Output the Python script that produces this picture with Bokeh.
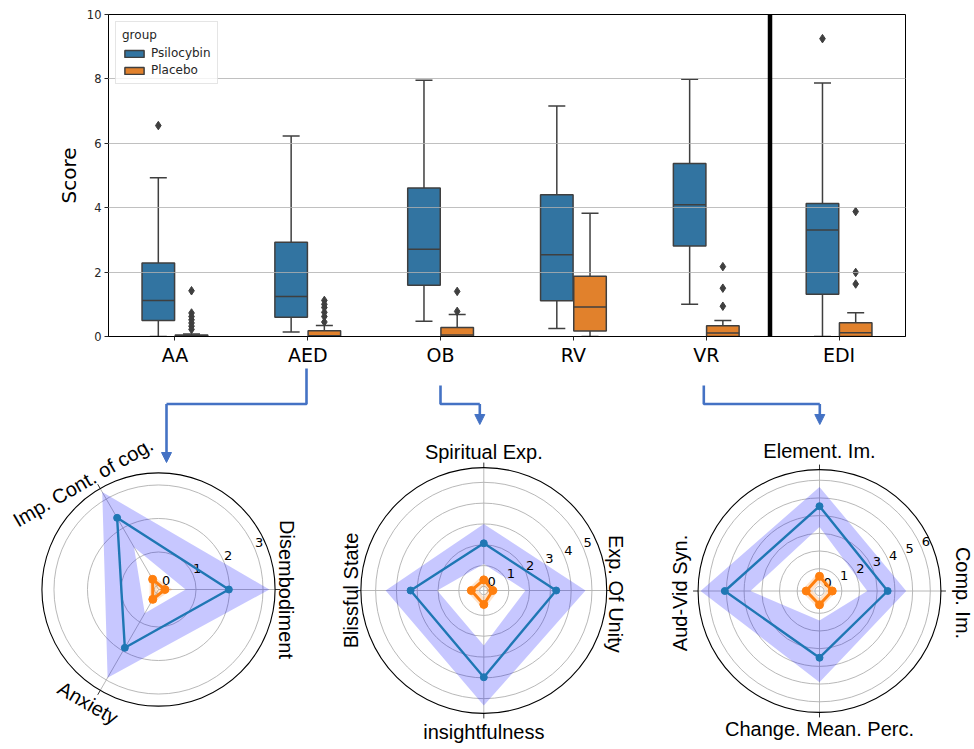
import math
from bokeh.plotting import figure
from bokeh.layouts import column, row
from bokeh.models import (ColumnDataSource, FactorRange, Span, Legend, LegendItem,
                          Range1d, FixedTicker, Arrow, NormalHead)
from bokeh.transform import dodge
from bokeh.embed import file_html
from bokeh.resources import INLINE
from bokeh.core.properties import value

# ---------------- data: box plot ----------------
categories = ["AA", "AED", "OB", "RV", "VR", "EDI"]
groups = ["Psilocybin", "Placebo"]

psi_whislo = [0.00, 0.14, 0.47, 0.25, 1.00, 0.00]
psi_q1 = [0.50, 0.60, 1.59, 1.11, 2.81, 1.31]
psi_med = [1.12, 1.24, 2.71, 2.54, 4.09, 3.31]
psi_q3 = [2.28, 2.93, 4.61, 4.40, 5.37, 4.13]
psi_whishi = [4.93, 6.23, 7.96, 7.16, 7.99, 7.87]
psi_out_cat = ["AA", "EDI"]
psi_out_val = [6.55, 9.25]

pla_whislo = [0.00, 0.00, 0.00, 0.00, 0.00, 0.00]
pla_q1 = [0.00, 0.00, 0.00, 0.17, 0.00, 0.00]
pla_med = [0.01, 0.02, 0.05, 0.92, 0.11, 0.12]
pla_q3 = [0.05, 0.18, 0.28, 1.87, 0.33, 0.43]
pla_whishi = [0.08, 0.34, 0.68, 3.83, 0.50, 0.74]
pla_out_cat = ["AA"] * 7 + ["AED"] * 6 + ["OB"] * 2 + ["VR"] * 3 + ["EDI"] * 3
pla_out_val = [1.42, 0.73, 0.62, 0.52, 0.42, 0.32, 0.22,
               1.12, 1.00, 0.90, 0.75, 0.62, 0.45,
               1.40, 0.78,
               2.17, 1.50, 0.94,
               3.88, 1.99, 1.63]

y_ticks = [0, 2, 4, 6, 8, 10]

# ---------------- data: radar charts ----------------
r1_axes = ["Disembodiment", "Imp. Cont. of cog.", "Anxiety"]
r1_angles = [0, 120, 240]
r1_psi_mean = [1.98, 2.35, 1.89]
r1_psi_upper = [3.19, 3.24, 2.92]
r1_psi_lower = [0.69, 1.34, 0.70]
r1_pla_mean = [0.07, 0.23, 0.22]
r1_pla_upper = [0.30, 0.42, 0.40]
r1_pla_lower = [-0.12, -0.05, -0.06]
r1_ticks = [0, 1, 2, 3]

r2_axes = ["Exp. Of Unity", "Spiritual Exp.", "Blissful State", "insightfulness"]
r2_angles = [0, 90, 180, 270]
r2_psi_mean = [3.28, 2.07, 3.32, 3.97]
r2_psi_upper = [4.69, 3.00, 4.52, 5.33]
r2_psi_lower = [1.80, 1.08, 2.04, 2.44]
r2_pla_mean = [0.23, 0.31, 0.40, 0.47]
r2_pla_upper = [0.50, 0.58, 0.65, 0.72]
r2_pla_lower = [-0.05, 0.02, 0.08, 0.12]
r2_ticks = [0, 1, 2, 3, 4, 5]

r3_axes = ["Comp. Im.", "Element. Im.", "Aud-Vid Syn.", "Change. Mean. Perc."]
r3_angles = [0, 90, 180, 270]
r3_psi_mean = [3.59, 4.53, 5.09, 3.51]
r3_psi_upper = [4.64, 5.62, 6.46, 4.89]
r3_psi_lower = [2.44, 3.36, 3.64, 1.41]
r3_pla_mean = [0.46, 0.57, 0.49, 0.52]
r3_pla_upper = [0.72, 0.85, 0.78, 0.80]
r3_pla_lower = [0.12, 0.20, 0.14, 0.16]
r3_ticks = [0, 1, 2, 3, 4, 5, 6]

# ---------------- styles ----------------
PSI = "#3274a1"
PLA = "#e1812c"
EDGE = "#3f3f3f"
FONT = "DejaVu Sans"

# ---------------- top box plot ----------------
TOP_W, TOP_H = 972, 368
p = figure(x_range=FactorRange(*categories), y_range=Range1d(0, 10),
           width=TOP_W, height=TOP_H, output_backend="svg", toolbar_location=None,
           min_border_left=108, min_border_right=TOP_W - 905, min_border_top=14,
           min_border_bottom=TOP_H - 337)
p.background_fill_color = "white"
p.outline_line_color = "black"
p.outline_line_width = 1

box_w = 0.245
cap_half = 0.064
renderers = {}
for g, off, col, lo, q1, med, q3, hi in [
        ("Psilocybin", -0.125, PSI, psi_whislo, psi_q1, psi_med, psi_q3, psi_whishi),
        ("Placebo", 0.125, PLA, pla_whislo, pla_q1, pla_med, pla_q3, pla_whishi)]:
    src = ColumnDataSource(dict(cat=categories, lo=lo, q1=q1, med=med, q3=q3, hi=hi))
    xc = dodge("cat", off, range=p.x_range)
    p.segment(x0=xc, y0="q3", x1=xc, y1="hi", source=src, line_color=EDGE, line_width=1.5)
    p.segment(x0=xc, y0="lo", x1=xc, y1="q1", source=src, line_color=EDGE, line_width=1.5)
    for yf in ["hi", "lo"]:
        p.segment(x0=dodge("cat", off - cap_half, range=p.x_range), y0=yf,
                  x1=dodge("cat", off + cap_half, range=p.x_range), y1=yf,
                  source=src, line_color=EDGE, line_width=1.5)
    r = p.vbar(x=xc, width=box_w, bottom="q1", top="q3", source=src,
               fill_color=col, line_color=EDGE, line_width=1.5)
    p.segment(x0=dodge("cat", off - box_w / 2, range=p.x_range), y0="med",
              x1=dodge("cat", off + box_w / 2, range=p.x_range), y1="med",
              source=src, line_color=EDGE, line_width=1.5)
    renderers[g] = r

for cats, vals, off in [(psi_out_cat, psi_out_val, -0.125), (pla_out_cat, pla_out_val, 0.125)]:
    osrc = ColumnDataSource(dict(cat=cats, v=vals))
    p.scatter(x=dodge("cat", off, range=p.x_range), y="v", source=osrc, marker="diamond",
              size=8.5, fill_color=EDGE, line_color=EDGE)

p.add_layout(Span(location=4.98, dimension="height", line_color="black", line_width=4.5))

p.xgrid.visible = False
p.ygrid.ticker = FixedTicker(ticks=[2, 4, 6, 8])
p.ygrid.grid_line_color = "#b0b0b0"
p.ygrid.grid_line_width = 1
p.ygrid.grid_line_alpha = 0.8
p.ygrid.level = "guide"

p.yaxis.ticker = FixedTicker(ticks=y_ticks)
p.yaxis.axis_label = "Score"
p.yaxis.axis_label_text_font = FONT
p.yaxis.axis_label_text_font_size = "20px"
p.yaxis.axis_label_text_font_style = "normal"
p.yaxis.axis_label_text_color = "black"
p.yaxis.axis_label_standoff = 3
p.yaxis.major_label_text_font = FONT
p.yaxis.major_label_text_font_size = "11.5px"
p.yaxis.major_label_text_color = "#262626"
p.yaxis.major_label_standoff = 3
p.yaxis.major_tick_out = 4
p.yaxis.major_tick_in = 0
p.yaxis.minor_tick_line_color = None
p.yaxis.axis_line_color = "black"
p.yaxis.major_tick_line_color = "#262626"

p.xaxis.major_label_text_font = FONT
p.xaxis.major_label_text_font_size = "19px"
p.xaxis.major_label_text_color = "black"
p.xaxis.major_label_standoff = 3
p.xaxis.major_tick_out = 4
p.xaxis.major_tick_in = 0
p.xaxis.axis_line_color = "black"
p.xaxis.major_tick_line_color = "#262626"

legend = Legend(items=[LegendItem(label=g, renderers=[renderers[g]]) for g in groups],
                title="group", location="top_left")
legend.title_text_font = FONT
legend.title_text_font_size = "12px"
legend.title_text_font_style = "normal"
legend.title_text_color = "#262626"
legend.title_standoff = 4
legend.label_text_font = FONT
legend.label_text_font_size = "12px"
legend.label_text_color = "#262626"
legend.glyph_width = 24
legend.glyph_height = 9
legend.label_height = 14
legend.spacing = 3
legend.padding = 6
legend.margin = 7
legend.border_line_color = "#cccccc"
legend.background_fill_alpha = 0.8
p.add_layout(legend)

# ---------------- radar charts ----------------
ROW_TOP, ROW_BOT = TOP_H, 747
ARROW = "#4472c4"


def radar(left, right, cx, cy, k, rmin, rmax, axes, angles, label_off, label_rot,
          psi_mean, psi_lo, psi_hi, pla_mean, pla_lo, pla_hi, ticks, arrow_path):
    f = figure(width=right - left, height=ROW_BOT - ROW_TOP, output_backend="svg",
               toolbar_location=None, x_axis_location=None, y_axis_location=None,
               x_range=Range1d((left - cx) / k, (right - cx) / k),
               y_range=Range1d((cy - ROW_BOT) / k, (cy - ROW_TOP) / k),
               min_border=0, min_border_left=0, min_border_right=0,
               min_border_top=0, min_border_bottom=0)
    f.outline_line_color = None
    f.grid.visible = False

    th = [math.radians(a) for a in angles]

    def pol(vals):
        rho = [max(v - rmin, 0.0) for v in vals]
        return ([r * math.cos(t) for r, t in zip(rho, th)],
                [r * math.sin(t) for r, t in zip(rho, th)])

    R = rmax - rmin
    # rings
    f.circle(x=[0] * len(ticks), y=[0] * len(ticks), radius=[t - rmin for t in ticks],
             fill_color=None, line_color="#b0b0b0", line_width=0.9)
    # spokes
    f.segment(x0=[0] * len(th), y0=[0] * len(th),
              x1=[R * math.cos(t) for t in th], y1=[R * math.sin(t) for t in th],
              line_color="#b0b0b0", line_width=0.9)
    # outer tick marks
    d = 5.0 / k
    f.segment(x0=[R * math.cos(t) for t in th], y0=[R * math.sin(t) for t in th],
              x1=[(R + d) * math.cos(t) for t in th], y1=[(R + d) * math.sin(t) for t in th],
              line_color="black", line_width=0.8)
    f.circle(x=[0], y=[0], radius=[R], fill_color=None, line_color="black", line_width=1.1)

    # bands
    for lo, hi, colr, alpha in [(psi_lo, psi_hi, "blue", 0.22), (pla_lo, pla_hi, "#ff7f0e", 0.22)]:
        ox, oy = pol(hi)
        ix, iy = pol(lo)
        f.multi_polygons(xs=[[[ox, ix]]], ys=[[[oy, iy]]], fill_color=colr,
                         fill_alpha=alpha, line_color=None)

    # radial tick labels
    a_lab = math.radians(22.5)
    f.text(x=[(t - rmin) * math.cos(a_lab) for t in ticks],
           y=[(t - rmin) * math.sin(a_lab) for t in ticks],
           text=[str(t) for t in ticks], text_font=value(FONT), text_font_size="13px",
           text_color="black", text_align="center", text_baseline="middle",
           x_offset=4, y_offset=-7)

    # mean polygons
    for vals, colr, lw, sz in [(psi_mean, "#1f77b4", 2.4, 7), (pla_mean, "#ff7f0e", 3, 8)]:
        xs, ys = pol(vals)
        f.line(xs + [xs[0]], ys + [ys[0]], line_color=colr, line_width=lw)
        f.scatter(xs, ys, size=sz, fill_color=colr, line_color=colr)

    # axis labels
    f.text(x=[dx / k for dx, dy in label_off], y=[-dy / k for dx, dy in label_off],
           text=axes, angle=[math.radians(a) for a in label_rot],
           text_font=value("Liberation Sans"), text_font_size="20px", text_color="black",
           text_align="center", text_baseline="middle")

    # connector arrow
    px = [(x - cx) / k for x, y in arrow_path]
    py = [(cy - y) / k for x, y in arrow_path]
    f.line(px[:-1], py[:-1], line_color=ARROW, line_width=2.6)
    f.add_layout(Arrow(end=NormalHead(size=10, fill_color=ARROW, line_color=ARROW),
                       x_start=px[-2], y_start=py[-2], x_end=px[-1], y_end=py[-1],
                       line_color=ARROW, line_width=2.6))
    return f


r1 = radar(0, 320, 158, 589, 33.5, -0.12, 3.36, r1_axes, r1_angles,
           [(128, 0), (-75.5, -107.3), (-70.5, 113.3)], [-90, 30, -30],
           r1_psi_mean, r1_psi_lower, r1_psi_upper,
           r1_pla_mean, r1_pla_lower, r1_pla_upper, r1_ticks,
           [(306, 366), (306, 403.5), (166, 403.5), (166, 462)])

r2 = radar(320, 646, 483.3, 590, 20.8, -0.20, 5.71, r2_axes, r2_angles,
           [(131.7, 3.3), (0, -139), (-132.5, 0), (0, 141.7)], [-90, 0, 90, 0],
           r2_psi_mean, r2_psi_lower, r2_psi_upper,
           r2_pla_mean, r2_pla_lower, r2_pla_upper, r2_ticks,
           [(440, 385), (440, 403.5), (479.3, 403.5), (479.3, 424)])

r3 = radar(646, 972, 819, 590.5, 17.7, -0.26, 6.6, r3_axes, r3_angles,
           [(143, 2), (0, -140.5), (-139.8, 2), (0, 137.8)], [-90, 0, 90, 0],
           r3_psi_mean, r3_psi_lower, r3_psi_upper,
           r3_pla_mean, r3_pla_lower, r3_pla_upper, r3_ticks,
           [(703.3, 385), (703.3, 403.5), (819.3, 403.5), (819.3, 424)])

layout = column(p, row(r1, r2, r3, spacing=0), spacing=0)
open("out.html", "w").write(file_html(layout, INLINE))
